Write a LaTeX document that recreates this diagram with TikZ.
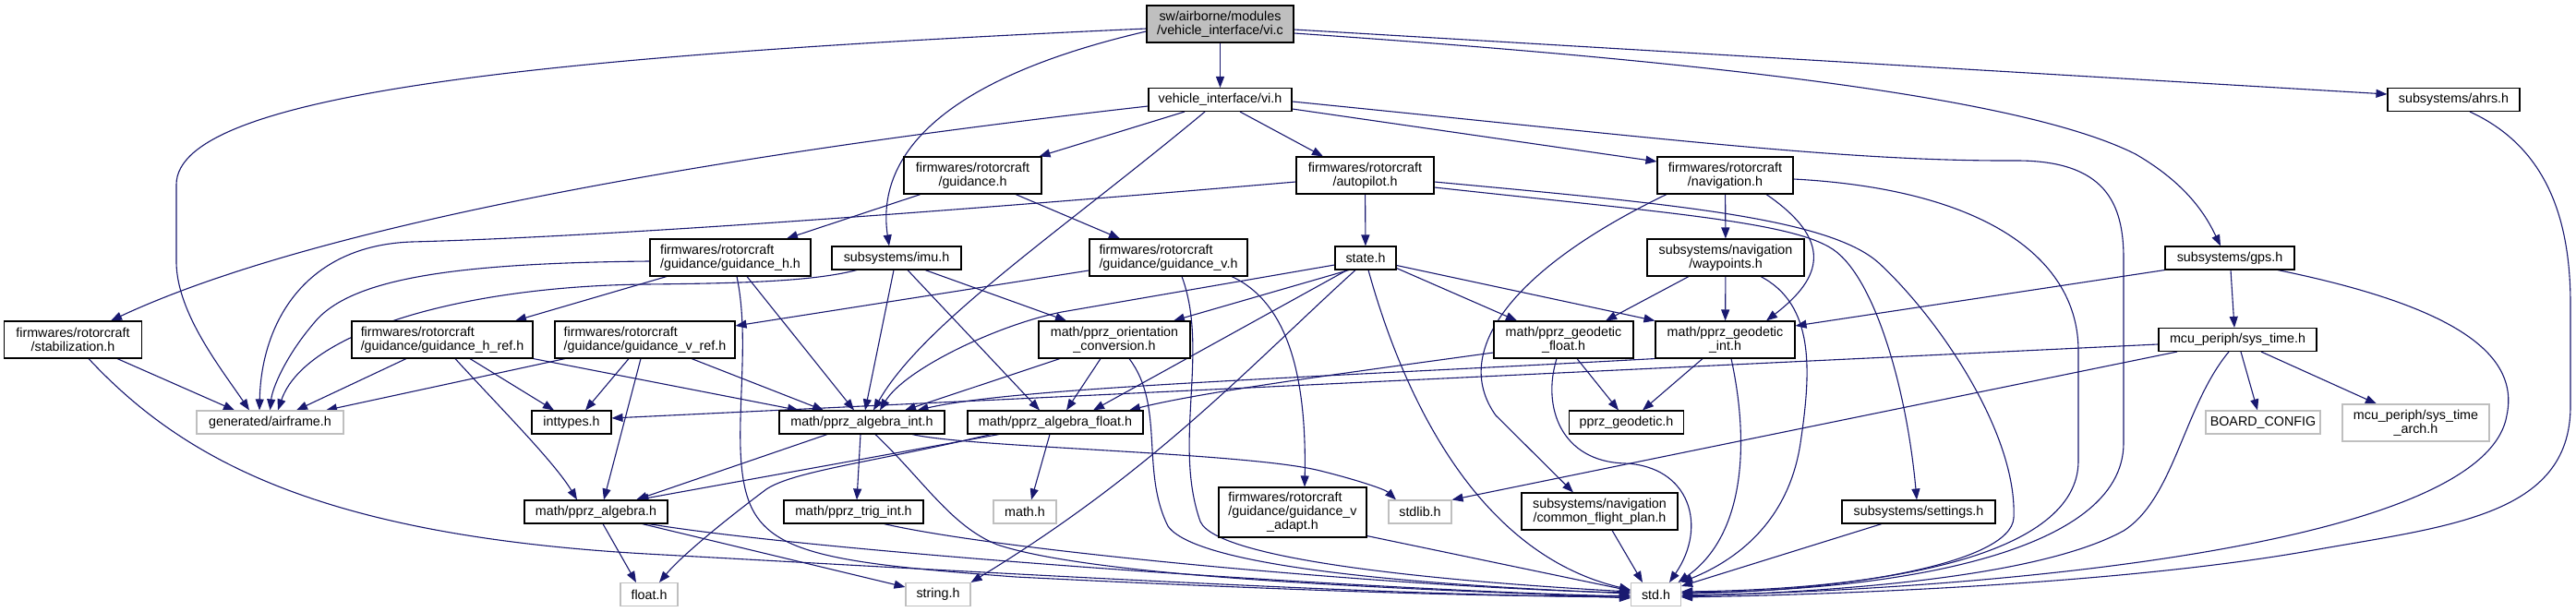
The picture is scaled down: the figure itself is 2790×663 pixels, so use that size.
\documentclass[tikz,border=0pt]{standalone}
\usepackage{fontspec}
\setmainfont{Liberation Sans}
\usetikzlibrary{arrows.meta}
\definecolor{edgec}{HTML}{191970}
\definecolor{grayb}{HTML}{BFBFBF}
\pgfdeclarelayer{bg}
\pgfdeclarelayer{edges}
\pgfsetlayers{bg,edges,main}
\begin{document}
\begin{tikzpicture}[x=1pt,y=-1pt,
  nd/.style={draw=black, line width=1.1pt, fill=white, inner sep=0pt, text=black,
    font=\fontsize{14.3}{15}\selectfont, align=center},
  ndl/.style={nd, align=left},
  gr/.style={nd, draw=grayb},
  sz/.style 2 args={minimum width=#1, minimum height=#2},
  e/.style={draw=edgec, line width=1.1pt, -{Triangle[length=12pt,width=9pt]}}]
\begin{pgfonlayer}{bg}
\fill[white] (0,0) rectangle (2790,663);
\end{pgfonlayer}
\useasboundingbox (0,0) rectangle (2790,663);

% nodes
\node[nd, fill=grayb, sz={159pt}{40pt}] (vic) at (1321.5,26) {sw/airborne/modules\\/vehicle\_interface/vi.c};
\node[nd, sz={155pt}{25pt}] (vih) at (1321.5,108) {vehicle\_interface/vi.h};
\node[nd, sz={149pt}{40pt}] (guid) at (1053.5,190) {firmwares/rotorcraft\\/guidance.h};
\node[nd, sz={149pt}{40pt}] (autop) at (1478.5,190) {firmwares/rotorcraft\\/autopilot.h};
\node[nd, sz={147pt}{40pt}] (nav) at (1868.5,190) {firmwares/rotorcraft\\/navigation.h};
\node[nd, sz={143pt}{25pt}] (ahrs) at (2657.5,108) {subsystems/ahrs.h};
\node[ndl, sz={174pt}{40pt}] (guidh) at (791,279) {firmwares/rotorcraft\\/guidance/guidance\_h.h};
\node[nd, sz={140pt}{25pt}] (imu) at (971,279.5) {subsystems/imu.h};
\node[ndl, sz={171pt}{40pt}] (guidv) at (1265.5,279) {firmwares/rotorcraft\\/guidance/guidance\_v.h};
\node[nd, sz={66pt}{25pt}] (state) at (1479,279.5) {state.h};
\node[nd, sz={170pt}{40pt}] (wayp) at (1869,279) {subsystems/navigation\\/waypoints.h};
\node[nd, sz={140pt}{25pt}] (gps) at (2415,279.5) {subsystems/gps.h};
\node[nd, sz={149pt}{40pt}] (stab) at (79,368) {firmwares/rotorcraft\\/stabilization.h};
\node[ndl, sz={196pt}{40pt}] (guidhref) at (479,368) {firmwares/rotorcraft\\/guidance/guidance\_h\_ref.h};
\node[ndl, sz={195pt}{40pt}] (guidvref) at (698.5,368) {firmwares/rotorcraft\\/guidance/guidance\_v\_ref.h};
\node[nd, sz={164pt}{40pt}] (orient) at (1207,368) {math/pprz\_orientation\\\_conversion.h};
\node[nd, sz={151pt}{40pt}] (geof) at (1693.5,368) {math/pprz\_geodetic\\\_float.h};
\node[nd, sz={151pt}{40pt}] (geoi) at (1868.5,368) {math/pprz\_geodetic\\\_int.h};
\node[nd, sz={171pt}{25pt}] (systime) at (2423.5,368) {mcu\_periph/sys\_time.h};
\node[gr, sz={159pt}{25pt}] (airframe) at (292.5,457.5) {generated/airframe.h};
\node[nd, sz={86pt}{25pt}] (inttypes) at (619,457.5) {inttypes.h};
\node[nd, sz={179pt}{25pt}] (algint) at (933.5,457.5) {math/pprz\_algebra\_int.h};
\node[nd, sz={190pt}{25pt}] (algfloat) at (1143,457.5) {math/pprz\_algebra\_float.h};
\node[nd, sz={124pt}{25pt}] (pgeod) at (1761.5,457.5) {pprz\_geodetic.h};
\node[gr, sz={124pt}{25pt}] (board) at (2451,457.5) {BOARD\_CONFIG};
\node[gr, sz={159pt}{40pt}] (sysarch) at (2616.5,458) {mcu\_periph/sys\_time\\\_arch.h};
\node[nd, sz={155pt}{25pt}] (palg) at (645.5,554.5) {math/pprz\_algebra.h};
\node[nd, sz={151pt}{25pt}] (trig) at (924.5,554.5) {math/pprz\_trig\_int.h};
\node[gr, sz={68pt}{25pt}] (math) at (1110,554.5) {math.h};
\node[nd, sz={160pt}{54pt}] (vadapt) at (1400,555) {\begin{tabular}{@{}l@{}}firmwares/rotorcraft\\/guidance/guidance\_v\\\multicolumn{1}{@{}c@{}}{\_adapt.h}\end{tabular}};
\node[gr, sz={68pt}{25pt}] (stdlib) at (1538,554.5) {stdlib.h};
\node[nd, sz={169pt}{40pt}] (cfp) at (1732.5,554) {subsystems/navigation\\/common\_flight\_plan.h};
\node[nd, sz={166pt}{25pt}] (settings) at (2078,554.5) {subsystems/settings.h};
\node[gr, sz={62pt}{25pt}] (floath) at (703,644) {float.h};
\node[gr, sz={70pt}{25pt}] (string) at (1016,644) {string.h};
\node[gr, sz={54pt}{25pt}] (std) at (1793.5,644) {std.h};

\begin{pgfonlayer}{edges}
% vi.c
\draw[e] (vic) -- (vih);
\draw[e] ([yshift=-5pt]vic.west) .. controls (600,60) and (191,100) .. (191,200) -- (191,285) .. controls (192,340) and (240,400) .. ([xshift=-22.5pt]airframe.north);
\draw[e] ([yshift=-8pt]vic.west) .. controls (1000,90) and (950,180) .. ([xshift=-8pt]imu.north);
\draw[e] ([yshift=-6pt]vic.east) -- ([yshift=6pt]ahrs.west);
\draw[e] ([yshift=-10pt]vic.east) .. controls (1900,70) and (2200,110) .. (2313,167) .. controls (2370,200) and (2390,235) .. ([xshift=-10pt]gps.north);
% vi.h
\draw[e] ([yshift=-7pt]vih.west) .. controls (800,165) and (350,240) .. ([xshift=41pt]stab.north);
\draw[e] ([xshift=-38.5pt]vih.south) -- ([xshift=72pt]guid.north);
\draw[e] ([xshift=-16.5pt]vih.south) .. controls (1150,250) and (1000,350) .. ([xshift=12.5pt]algint.north);
\draw[e] ([xshift=21.5pt]vih.south) -- ([xshift=-45.5pt]autop.north);
\draw[e] ([yshift=-10pt]vih.east) -- ([yshift=15pt]nav.west);
\draw[e] ([yshift=-2pt]vih.east) .. controls (1800,150) and (2000,175) .. (2184,174) .. controls (2280,174) and (2300,220) .. (2300,280) -- (2300,480) .. controls (2300,600) and (2050,640) .. ([yshift=2pt]std.east);
% guidance.h
\draw[e] ([xshift=-56.5pt]guid.south) -- ([xshift=61pt]guidh.north);
\draw[e] ([xshift=46.5pt]guid.south) -- ([xshift=-52.5pt]guidv.north);
% autopilot.h
\draw[e] ([yshift=-7pt]autop.west) .. controls (900,240) and (600,258) .. (446,262) .. controls (330,266) and (283,350) .. ([xshift=-11.5pt]airframe.north);
\draw[e] (autop) -- (state);
\draw[e] ([yshift=-13pt]autop.east) .. controls (1800,230) and (1940,240) .. (1985,270) .. controls (2030,300) and (2065,420) .. ([xshift=-2pt]settings.north);
\draw[e] ([yshift=-7pt]autop.east) .. controls (1800,220) and (1980,235) .. (2035,285) .. controls (2100,345) and (2185,470) .. (2181,561) .. controls (2178,610) and (2000,640) .. ([yshift=1pt]std.east);
% navigation.h
\draw[e] (nav) -- (wayp);
\draw[e] ([xshift=-63.5pt]nav.south) .. controls (1640,290) and (1570,380) .. (1620,450) -- ([xshift=-28.5pt]cfp.north);
\draw[e] ([xshift=44.5pt]nav.south) .. controls (1985,260) and (1975,300) .. ([xshift=44.5pt]geoi.north);
\draw[e] ([yshift=-4pt]nav.east) .. controls (2150,205) and (2251,280) .. (2251,380) -- (2251,500) .. controls (2250,600) and (2050,638) .. ([yshift=3pt]std.east);
% waypoints.h
\draw[e] ([xshift=-40pt]wayp.south) -- ([xshift=45.5pt]geof.north);
\draw[e] (wayp) -- (geoi);
\draw[e] ([xshift=38pt]wayp.south) .. controls (1965,330) and (1962,400) .. (1950,480) .. controls (1935,580) and (1860,615) .. (std.north east);
% state.h
\draw[e] ([yshift=-7.5pt]state.west) -- (1150,338) .. controls (1080,352) and (980,400) .. ([xshift=19.5pt]algint.north);
\draw[e] ([xshift=-18pt]state.south) -- ([xshift=64pt]orient.north);
\draw[e] ([xshift=-20pt]state.south) -- ([xshift=41pt]algfloat.north);
\draw[e] ([xshift=-11pt]state.south) .. controls (1350,400) and (1250,510) .. (string.north east);
\draw[e] ([xshift=3pt]state.south) .. controls (1520,430) and (1600,600) .. ([yshift=5pt]std.west);
\draw[e] ([yshift=-11pt]state.east) -- ([xshift=-50.5pt]geof.north);
\draw[e] ([yshift=-8pt]state.east) -- (geoi.north west);
% guidance_h.h
\draw[e] ([yshift=-4pt]guidh.west) .. controls (500,285) and (380,300) .. (340,350) .. controls (310,385) and (295,420) .. (airframe.north);
\draw[e] ([xshift=-69pt]guidh.south) -- ([xshift=79pt]guidhref.north);
\draw[e] ([xshift=7pt]guidh.south) .. controls (815,380) and (790,480) .. (810,540) .. controls (830,600) and (900,610) .. (1100,625) .. controls (1400,640) and (1650,648) .. ([yshift=-1pt]std.west);
\draw[e] ([xshift=18pt]guidh.south) -- ([xshift=-8.5pt]algint.north);
% imu.h
\draw[e] ([xshift=-43pt]imu.south) .. controls (880,305) and (800,307) .. (700,308) .. controls (500,310) and (330,360) .. ([xshift=8.5pt]airframe.north);
\draw[e] ([xshift=-3pt]imu.south) -- ([xshift=3.5pt]algint.north);
\draw[e] ([xshift=12pt]imu.south) -- ([xshift=-17pt]algfloat.north);
\draw[e] ([xshift=31pt]imu.south) -- ([xshift=-52pt]orient.north);
% guidance_v.h
\draw[e] ([yshift=-14pt]guidv.west) -- ([yshift=15pt]guidvref.east);
\draw[e] ([xshift=14.5pt]guidv.south) .. controls (1310,380) and (1270,480) .. (1300,565) .. controls (1320,610) and (1600,632) .. ([yshift=3pt]std.west);
\draw[e] ([xshift=68.5pt]guidv.south) .. controls (1400,330) and (1415,420) .. ([xshift=13pt]vadapt.north);
% stabilization.h
\draw[e] ([xshift=48pt]stab.south) -- ([xshift=-38.5pt]airframe.north);
\draw[e] ([xshift=17pt]stab.south) .. controls (200,500) and (350,580) .. (700,600) .. controls (1100,622) and (1500,645) .. ([yshift=-3pt]std.west);
% guidance_h_ref.h
\draw[e] ([xshift=-39pt]guidhref.south) -- ([xshift=28.5pt]airframe.north);
\draw[e] ([xshift=30pt]guidhref.south) -- ([xshift=-19pt]inttypes.north);
\draw[e] ([xshift=14pt]guidhref.south) .. controls (540,440) and (600,500) .. ([xshift=-20.5pt]palg.north);
\draw[e] (guidhref.south east) -- ([xshift=-68.5pt]algint.north);
% guidance_v_ref.h
\draw[e] ([xshift=-86.5pt]guidvref.south) -- ([xshift=60.5pt]airframe.north);
\draw[e] ([xshift=-17.5pt]guidvref.south) -- ([xshift=15pt]inttypes.north);
\draw[e] ([xshift=-4.5pt]guidvref.south) -- ([xshift=8.5pt]palg.north);
\draw[e] ([xshift=50.5pt]guidvref.south) -- ([xshift=-41.5pt]algint.north);
% orientation
\draw[e] ([xshift=-59pt]orient.south) -- ([xshift=46.5pt]algint.north);
\draw[e] ([xshift=-15pt]orient.south) -- ([xshift=12pt]algfloat.north);
\draw[e] ([xshift=16pt]orient.south) .. controls (1262,440) and (1235,510) .. (1265,570) .. controls (1300,620) and (1600,636) .. ([yshift=1pt]std.west);
% geodetic float
\draw[e] ([yshift=-14pt]geof.west) .. controls (1450,405) and (1300,425) .. ([xshift=80pt]algfloat.north);
\draw[e] ([xshift=14.5pt]geof.south) -- ([xshift=-8.5pt]pgeod.north);
\draw[e] ([xshift=-7.5pt]geof.south) .. controls (1670,440) and (1690,500) .. (1760,502) .. controls (1830,505) and (1850,570) .. ([xshift=14.5pt]std.north);
% geodetic int
\draw[e] ([xshift=-24.5pt]geoi.south) -- ([xshift=17.5pt]pgeod.north);
\draw[e] (geoi.south west) .. controls (1400,410) and (1100,420) .. ([xshift=60pt]algint.north);
\draw[e] ([xshift=6.5pt]geoi.south) .. controls (1895,480) and (1890,580) .. ([xshift=24pt]std.north);
% gps.h
\draw[e] (gps.south west) -- ([yshift=15pt]geoi.east);
\draw[e] ([xshift=1pt]gps.south) -- ([xshift=-3.5pt]systime.north);
\draw[e] ([xshift=52pt]gps.south) .. controls (2650,330) and (2730,380) .. (2715,450) .. controls (2690,600) and (2100,640) .. ([yshift=-1pt]std.east);
% sys_time.h
\draw[e] ([yshift=-5pt]systime.west) -- ([yshift=4.5pt]inttypes.east);
\draw[e] ([xshift=-65.5pt]systime.south) -- (stdlib.north east);
\draw[e] ([xshift=-9.5pt]systime.south) .. controls (2365,440) and (2355,540) .. (2300,575) .. controls (2200,630) and (1950,642) .. ([yshift=-2pt]std.east);
\draw[e] ([xshift=3.5pt]systime.south) -- ([xshift=-6pt]board.north);
\draw[e] ([xshift=25.5pt]systime.south) -- ([xshift=-42.5pt]sysarch.north);
% ahrs.h
\draw[e] ([xshift=17.5pt]ahrs.south) .. controls (2760,160) and (2784,240) .. (2784,330) -- (2784,440) .. controls (2784,560) and (2650,570) .. (2500,597) .. controls (2300,632) and (2000,644) .. ([yshift=-3pt]std.east);
% algebra int
\draw[e] ([xshift=-37.5pt]algint.south) -- ([xshift=43.5pt]palg.north);
\draw[e] ([xshift=-1.5pt]algint.south) -- ([xshift=3.5pt]trig.north);
\draw[e] ([xshift=14.5pt]algint.south) .. controls (1000,520) and (1030,570) .. (1080,590) .. controls (1200,630) and (1600,640) .. ([yshift=-4pt]std.west);
\draw[e] ([xshift=54.5pt]algint.south) .. controls (1050,485) and (1350,490) .. (1430,510) .. controls (1470,520) and (1500,530) .. ([xshift=-26pt]stdlib.north);
% algebra float
\draw[e] ([xshift=-61pt]algfloat.south) -- ([xshift=45pt]palg.north);
\draw[e] ([xshift=-70pt]algfloat.south) .. controls (950,500) and (860,510) .. (830,530) .. controls (790,560) and (740,600) .. ([xshift=11pt]floath.north);
\draw[e] ([xshift=-6pt]algfloat.south) -- ([xshift=7pt]math.north);
% pprz_algebra.h
\draw[e] ([xshift=7.5pt]palg.south) -- ([xshift=-14pt]floath.north);
\draw[e] ([xshift=50pt]palg.south) -- ([yshift=8pt]string.west);
\draw[e] ([xshift=57pt]palg.south) .. controls (900,600) and (1500,640) .. ([yshift=-2pt]std.west);
% others
\draw[e] ([xshift=33pt]trig.south) .. controls (1100,600) and (1550,638) .. ([yshift=2pt]std.west);
\draw[e] ([yshift=2pt]vadapt.south east) -- ([yshift=4pt]std.west);
\draw[e] ([xshift=13.5pt]cfp.south) -- ([xshift=-14.5pt]std.north);
\draw[e] ([xshift=-40pt]settings.south) -- ([yshift=9pt]std.east);
\end{pgfonlayer}
\end{tikzpicture}
\end{document}
